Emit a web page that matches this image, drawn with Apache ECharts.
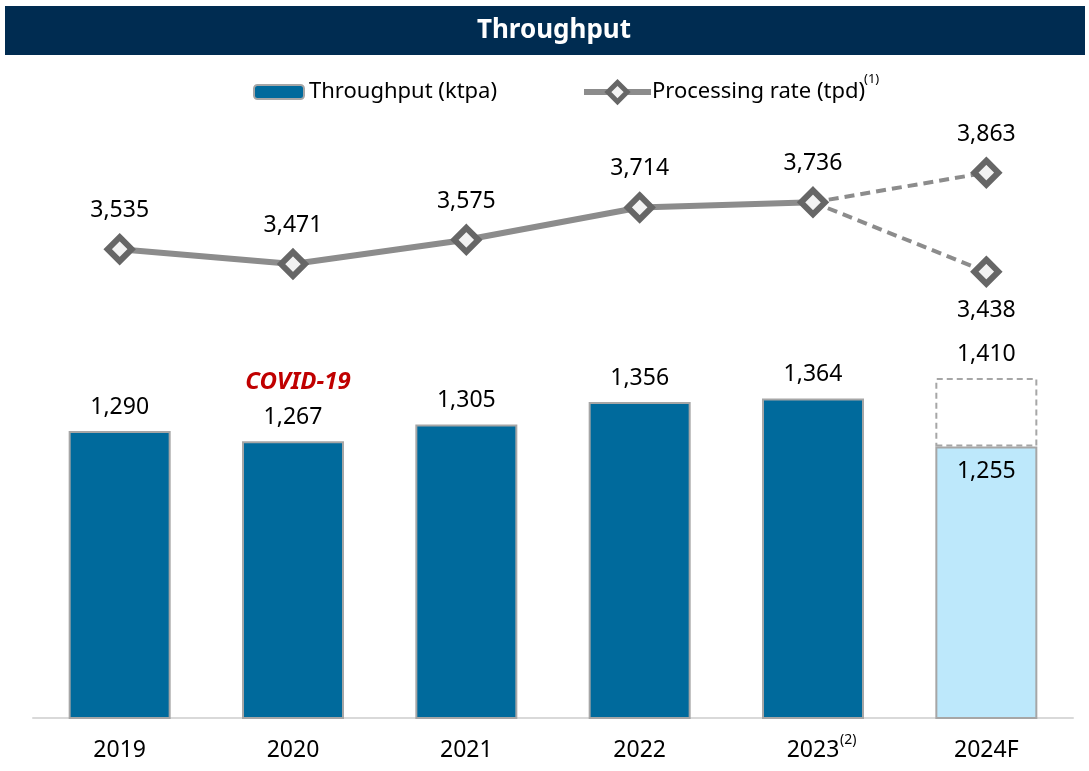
<!DOCTYPE html>
<html>
<head>
<meta charset="utf-8">
<script src="https://cdn.jsdelivr.net/npm/echarts@6/dist/echarts.min.js"></script>
<style>
  html, body { margin: 0; padding: 0; background: #fff; }
  #chart { width: 1089px; height: 771px; }
</style>
</head>
<body>
<div id="chart"></div>
<script>
// categories and values
const years = ['2019', '2020', '2021', '2022', '2023', '2024F'];
const throughput = [1290, 1267, 1305, 1356, 1364, 1255];   // ktpa
const throughputHigh = [null, null, null, null, null, 1410]; // upper case for 2024F
const rate = [3535, 3471, 3575, 3714, 3736, null];           // tpd
const rateHigh = [null, null, null, null, 3736, 3863];
const rateLow = [null, null, null, null, 3736, 3438];

const FONT = 'Noto Sans';
const BAR_BLUE = '#006A9C';
const BAR_LIGHT = '#BDE8FB';
const LINE_GREY = '#8C8C8C';
const MARK_GREY = '#666666';
const FS = 23;

// extra bar on top of 2024F for the dashed range box
const upside = throughputHigh.map((v, i) => v == null ? null : v - throughput[i]);

const barData = throughput.map((v, i) => {
  if (years[i] === '2024F') {
    return {
      value: v,
      itemStyle: { color: BAR_LIGHT },
      label: { position: 'insideTop', distance: 13 }
    };
  }
  return v;
});

const marker = {
  symbol: 'diamond',
  symbolSize: 24,
  itemStyle: { color: '#F2F2F2', borderColor: MARK_GREY, borderWidth: 6 }
};

// dashed branch: no marker on the shared 2023 point
const branch = (arr, pos) => arr.map((v, i) => {
  if (v == null) return null;
  if (i === 4) return { value: v, symbol: 'none', label: { show: false } };
  return { value: v, label: { show: true, position: pos } };
});

const fmt = p => p.value.toLocaleString('en-US');

const option = {
  animation: false,
  textStyle: { fontFamily: FONT },
  graphic: [
    {
      type: 'rect',
      shape: { x: 5, y: 6, width: 1080, height: 49 },
      style: { fill: '#002C51' },
      z: 0
    },
    {
      type: 'text',
      x: 554, y: 31,
      style: {
        text: 'Throughput', fill: '#fff', font: 'bold 26px "Noto Sans"',
        textAlign: 'center', textVerticalAlign: 'middle'
      }
    },
    {
      type: 'text',
      x: 864, y: 79,
      style: { text: '(1)', fill: '#000', font: '13px "Noto Sans"', textAlign: 'left', textVerticalAlign: 'middle' }
    },
    {
      type: 'text',
      x: 840, y: 740,
      style: { text: '(2)', fill: '#000', font: '14px "Noto Sans"', textAlign: 'left', textVerticalAlign: 'middle' }
    },
    {
      type: 'text',
      x: 298, y: 382,
      style: {
        text: 'COVID-19', fill: '#C00000', font: 'italic bold 24px "Noto Sans"',
        textAlign: 'center', textVerticalAlign: 'middle'
      }
    }
  ],
  legend: [
    {
      data: ['Throughput (ktpa)'],
      left: 253, top: 81, padding: 0,
      itemWidth: 50, itemHeight: 14, itemGap: 6,
      textStyle: { fontSize: 22, color: '#000', fontFamily: FONT, padding: [0, 0, 0, 0] }
    },
    {
      data: ['Processing rate (tpd)'],
      left: 581, top: 80, padding: 0,
      itemWidth: 67, itemHeight: 24,
      lineStyle: { width: 6, color: LINE_GREY },
      itemStyle: { color: '#F2F2F2', borderColor: MARK_GREY, borderWidth: 5 },
      textStyle: { fontSize: 22, color: '#000', fontFamily: FONT, padding: [0, 0, 0, -4] }
    }
  ],
  grid: { left: 33, right: 16, top: 100, bottom: 53 },
  xAxis: {
    type: 'category',
    data: years,
    axisLine: { lineStyle: { color: '#D9D9D9', width: 2 } },
    axisTick: { show: false },
    axisLabel: { color: '#000', fontSize: FS, margin: 21, fontFamily: FONT }
  },
  yAxis: [
    { type: 'value', min: 640, max: 2040, show: false, splitLine: { show: false } },
    { type: 'value', min: 1523, max: 4175, show: false, splitLine: { show: false } }
  ],
  series: [
    {
      name: 'Throughput (ktpa)',
      type: 'bar',
      stack: 'tp',
      barWidth: 102,
      data: barData,
      itemStyle: { color: BAR_BLUE, borderColor: '#A6A6A6', borderWidth: 2 },
      label: {
        show: true, position: 'top', distance: 12,
        color: '#000', fontSize: FS, fontFamily: FONT, formatter: fmt
      },
      z: 2
    },
    {
      name: 'upside',
      type: 'bar',
      stack: 'tp',
      barWidth: 102,
      data: upside,
      itemStyle: { color: 'rgba(0,0,0,0)', borderColor: '#A6A6A6', borderWidth: 2, borderType: [6, 4] },
      label: {
        show: true, position: 'top', distance: 12,
        color: '#000', fontSize: FS, fontFamily: FONT,
        formatter: p => throughputHigh[p.dataIndex].toLocaleString('en-US')
      },
      z: 1
    },
    {
      name: 'rate high',
      type: 'line',
      yAxisIndex: 1,
      data: branch(rateHigh, 'top'),
      ...marker,
      lineStyle: { color: LINE_GREY, width: 4, type: [10, 6] },
      label: { color: '#000', fontSize: FS, fontFamily: FONT, distance: 12, formatter: fmt },
      z: 3
    },
    {
      name: 'rate low',
      type: 'line',
      yAxisIndex: 1,
      data: branch(rateLow, 'bottom'),
      ...marker,
      lineStyle: { color: LINE_GREY, width: 4, type: [10, 6] },
      label: { color: '#000', fontSize: FS, fontFamily: FONT, distance: 12, formatter: fmt },
      z: 3
    },
    {
      name: 'Processing rate (tpd)',
      type: 'line',
      yAxisIndex: 1,
      data: rate,
      ...marker,
      lineStyle: { color: LINE_GREY, width: 6 },
      label: {
        show: true, position: 'top', distance: 12,
        color: '#000', fontSize: FS, fontFamily: FONT, formatter: fmt
      },
      z: 4
    }
  ]
};

const chart = echarts.init(document.getElementById('chart'));
chart.setOption(option);
</script>
</body>
</html>
